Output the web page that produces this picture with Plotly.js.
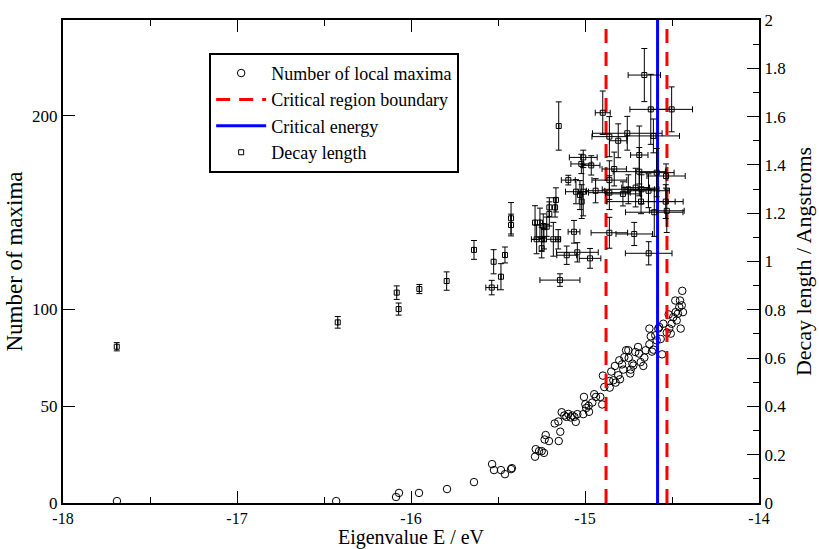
<!DOCTYPE html>
<html>
<head>
<meta charset="utf-8">
<script src="https://cdn.plot.ly/plotly-3.0.1.min.js"></script>
<style>html,body{margin:0;padding:0;background:#fff;}#chart{width:819px;height:549px;}</style>
</head>
<body>
<div id="chart"></div>
<script>
// Number of local maxima vs eigenvalue
const maximaE = [-17.69, -16.43, -16.086, -16.069, -15.954, -15.793, -15.638, -15.534, -15.523, -15.483, -15.46, -15.425, -15.42,
  -15.287, -15.283, -15.264, -15.249, -15.236, -15.226, -15.232, -15.207, -15.174, -15.153, -15.151, -15.142, -15.134, -15.119,
  -15.107, -15.096, -15.082, -15.073, -15.061, -15.053, -15.044, -15.010, -15.006, -14.998, -14.993, -14.979, -14.977, -14.958,
  -14.947, -14.937, -14.912, -14.901, -14.897, -14.889, -14.860, -14.858, -14.849, -14.837, -14.828, -14.824, -14.809, -14.803,
  -14.799, -14.787, -14.780, -14.774, -14.764, -14.751, -14.749, -14.737, -14.740, -14.728, -14.722, -14.711, -14.695, -14.690,
  -14.680, -14.665, -14.659, -14.651, -14.630, -14.630, -14.622, -14.615, -14.607, -14.596, -14.588, -14.579, -14.573, -14.565,
  -14.557, -14.550, -14.530, -14.519, -14.516, -14.507, -14.502, -14.493, -14.479, -14.473, -14.466, -14.458, -14.450, -14.444,
  -14.437, -14.481, -14.454, -14.441];
const maximaN = [1, 1, 3.1, 5.2, 5.2, 7.2, 10.8, 20.1, 17.0, 17.0, 14.9, 17.5, 18.0,
  23.9, 27.8, 26.8, 26.8, 25.9, 35.1, 32.8, 32.0, 41.1, 42.1, 32.0, 36.8, 46.9, 45.2,
  44.5, 46.0, 44.2, 45.2, 44.5, 41.9, 45.9, 45.9, 54.8, 51.0, 49.1, 50.2, 47.1, 51.9,
  56.2, 54.8, 54.8, 50.9, 65.8, 59.9, 63.0, 59.6, 67.9, 63.4, 70.8, 62.2, 66.0, 73.7,
  63.9, 71.6, 68.9, 75.3, 78.9, 78.9, 74.9, 68.9, 66.9, 72.0, 71.0, 78.0, 80.6, 77.2,
  72.8, 70.8, 75.1, 78.9, 82.0, 90.1, 86.1, 78.2, 79.2, 86.6, 84.0, 90.1, 90.9, 84.7,
  76.8, 92.6, 88.0, 97.4, 90.1, 87.5, 92.6, 96.0, 98.6, 94.3, 97.8, 101.2, 90.1, 102.1,
  98.6, 104.6, 104.6, 109.6];

// Decay length with error bars
const decayE = [-17.691, -16.421, -16.082, -16.071, -15.952, -15.795, -15.638, -15.525, -15.536, -15.483, -15.460, -15.425, -15.425,
  -15.287, -15.259, -15.240, -15.220, -15.205, -15.205, -15.167, -15.172, -15.278, -15.249, -15.236, -15.249, -15.182, -15.154,
  -15.063, -15.105, -15.044, -14.971, -15.144, -15.096, -15.052, -15.029, -15.019, -15.010, -14.939, -15.010, -15.021, -14.964,
  -15.151, -14.898, -14.659, -14.622, -14.502, -14.757, -14.607, -14.860, -14.809, -14.688, -14.832, -14.860, -14.688, -14.588,
  -14.534, -14.751, -14.709, -14.675, -14.635, -14.860, -14.782, -14.678, -14.602, -14.530, -14.536, -14.860, -14.717, -14.634];
const decayL = [0.647, 0.748, 0.871, 0.803, 0.886, 0.919, 1.048, 0.999, 0.892, 0.937, 1.027, 1.179, 1.151,
  1.161, 1.161, 1.147, 1.144, 1.197, 1.224, 1.255, 1.224, 1.092, 1.092, 1.092, 1.055, 1.092, 1.092,
  1.123, 1.026, 1.038, 1.013, 0.923, 1.337, 1.289, 1.275, 1.248, 1.289, 1.293, 1.431, 1.404, 1.398,
  1.561, 1.616, 1.772, 1.630, 1.630, 1.531, 1.520, 1.517, 1.500, 1.441, 1.383, 1.337, 1.372, 1.368,
  1.354, 1.299, 1.306, 1.299, 1.293, 1.285, 1.280, 1.248, 1.204, 1.210, 1.248, 1.119, 1.114, 1.034];
const decayErrE = [0, 0, 0, 0, 0, 0, 0, 0, 0.034, 0, 0, 0, 0,
  0, 0, 0, 0, 0, 0, 0, 0, 0.03, 0, 0, 0, 0.04, 0,
  0.034, 0.057, 0.12, 0.062, 0.115, 0.04, 0.06, 0, 0, 0.03, 0.053, 0.08, 0.06, 0.05,
  0, 0.043, 0.093, 0.12, 0.12, 0.2, 0.15, 0.1, 0.05, 0.05, 0.07, 0.1, 0.15, 0.1,
  0.11, 0.15, 0.08, 0.1, 0.12, 0.12, 0.1, 0.196, 0.165, 0.1, 0.1, 0.105, 0.105, 0.134];
const decayErrL = [0.017, 0.024, 0.028, 0.025, 0.019, 0.038, 0.039, 0.05, 0.03, 0.054, 0.033, 0.065, 0.045,
  0.07, 0.06, 0.05, 0.04, 0.05, 0.04, 0.05, 0.04, 0.06, 0.05, 0.04, 0.04, 0.07, 0.04,
  0.047, 0.038, 0.04, 0.041, 0.026, 0.02, 0.05, 0.06, 0.07, 0.1, 0.05, 0.03, 0.04, 0.04,
  0.10, 0.09, 0.11, 0.145, 0.093, 0.07, 0.07, 0.083, 0.07, 0.12, 0.07, 0.08, 0.1, 0.1,
  0.05, 0.06, 0.08, 0.06, 0.07, 0.07, 0.05, 0.05, 0.1, 0.09, 0.07, 0.064, 0.048, 0.048];

// Critical region boundaries and critical energy
const boundaryE = [-14.879, -14.529];
const criticalE = -14.583;
const maximaRange = [0, 249.5];
const decayRange = [0, 2];
const xRange = [-18, -14];
const xTicks = [-18, -17, -16, -15, -14];
const xTickLabels = ['-18', '-17', '-16', '-15', '-14'];
const leftTicks = [0, 50, 100, 200];
const leftTickLabels = ['0', '50', '100', '200'];

const FONT = '"Liberation Serif", "Times New Roman", Times, serif';

const boundX = [boundaryE[0], boundaryE[0], null, boundaryE[1], boundaryE[1]];
const boundY = [maximaRange[0], maximaRange[1], null, maximaRange[0], maximaRange[1]];

const traces = [
  {
    x: maximaE, y: maximaN, type: 'scatter', mode: 'markers', name: 'Number of local maxima',
    marker: {symbol: 'circle-open', size: 7.5, color: '#000', line: {width: 1, color: '#000'}},
    xaxis: 'x', yaxis: 'y'
  },
  {
    x: boundX, y: boundY, type: 'scatter', mode: 'lines', name: 'Critical region boundary',
    line: {color: '#ff0000', width: 3, dash: '14px,9px'}, connectgaps: false,
    xaxis: 'x', yaxis: 'y'
  },
  {
    x: [criticalE, criticalE], y: maximaRange, type: 'scatter', mode: 'lines', name: 'Critical energy',
    line: {color: '#0000ff', width: 3},
    xaxis: 'x', yaxis: 'y'
  },
  {
    x: decayE, y: decayL, type: 'scatter', mode: 'markers', name: 'Decay length',
    marker: {symbol: 'square-open', size: 5, color: '#000', line: {width: 1, color: '#000'}},
    error_x: {type: 'data', array: decayErrE, visible: true, color: '#000', thickness: 1, width: 3},
    error_y: {type: 'data', array: decayErrL, visible: true, color: '#000', thickness: 1, width: 3},
    xaxis: 'x', yaxis: 'y2'
  }
];

const layout = {
  width: 819, height: 549,
  margin: {l: 63, r: 60, t: 20, b: 46, pad: 0},
  paper_bgcolor: '#fff', plot_bgcolor: '#fff',
  font: {family: FONT, size: 16, color: '#000'},
  showlegend: true,
  legend: {
    x: 0.21, y: 0.932, xanchor: 'left', yanchor: 'top',
    bgcolor: '#fff', bordercolor: '#000', borderwidth: 2,
    font: {family: FONT, size: 18, color: '#000'},
    itemwidth: 50, tracegroupgap: 0
  },
  xaxis: {
    range: xRange, tickmode: 'array', tickvals: xTicks, ticktext: xTickLabels,
    showgrid: false, zeroline: false,
    showline: true, linecolor: '#000', linewidth: 2, mirror: 'ticks',
    ticks: 'inside', ticklen: 12, tickwidth: 1, tickcolor: '#000',
    minor: {dtick: 0.5, tick0: -18, ticks: 'inside', ticklen: 6, tickwidth: 1, tickcolor: '#000', showgrid: false},
    tickfont: {family: FONT, size: 16}, ticklabelstandoff: 0,
    title: {text: 'Eigenvalue E / eV', font: {family: FONT, size: 20}, standoff: 9}
  },
  yaxis: {
    range: maximaRange, tickmode: 'array', tickvals: leftTicks, ticktext: leftTickLabels,
    showgrid: false, zeroline: false,
    showline: true, linecolor: '#000', linewidth: 2,
    ticks: 'inside', ticklen: 12, tickwidth: 1, tickcolor: '#000',
    tickfont: {family: FONT, size: 17},
    title: {text: 'Number of maxima', font: {family: FONT, size: 23}, standoff: 3}
  },
  yaxis2: {
    range: decayRange, dtick: 0.2, tick0: 0, overlaying: 'y', side: 'right',
    showgrid: false, zeroline: false,
    showline: true, linecolor: '#000', linewidth: 2,
    ticks: 'inside', ticklen: 12, tickwidth: 1, tickcolor: '#000',
    minor: {dtick: 0.1, ticks: 'inside', ticklen: 6, tickwidth: 1, tickcolor: '#000', showgrid: false},
    tickfont: {family: FONT, size: 17},
    title: {text: 'Decay length / Angstroms', font: {family: FONT, size: 22}, standoff: 10}
  }
};

Plotly.newPlot('chart', traces, layout, {displayModeBar: false, responsive: false});
</script>
</body>
</html>
